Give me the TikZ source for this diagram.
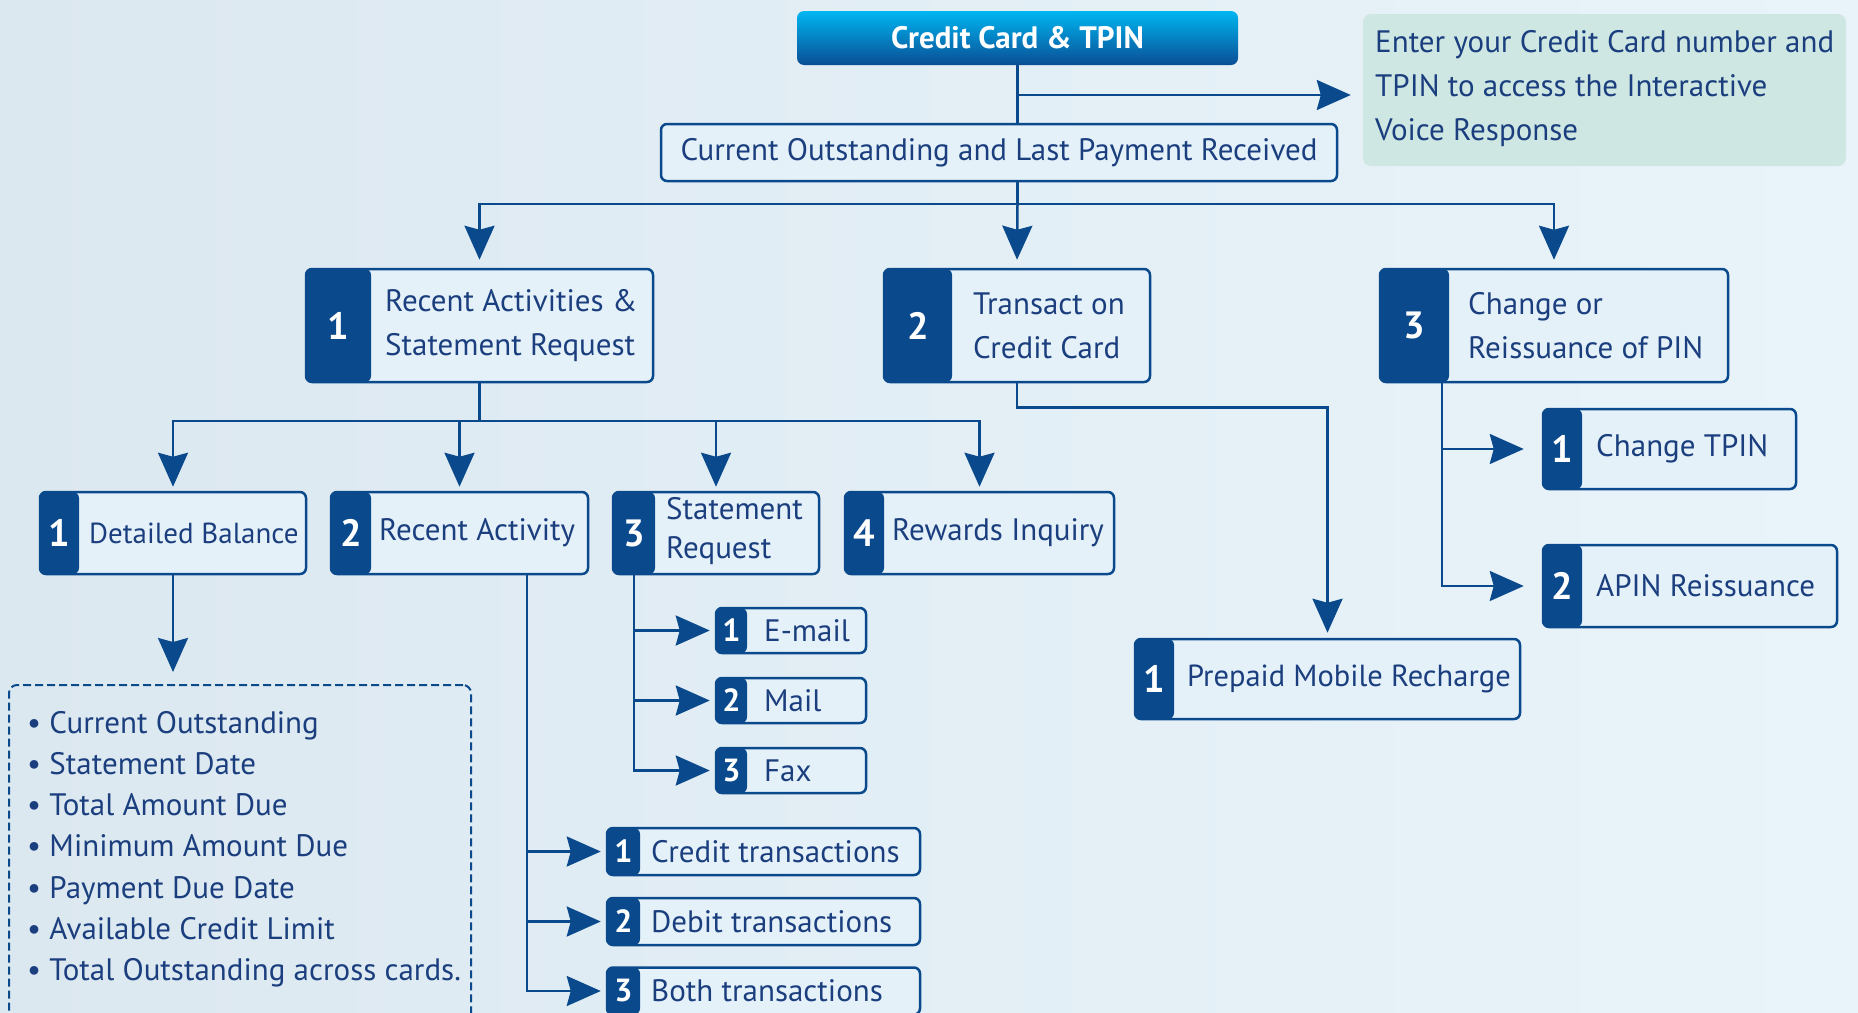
\documentclass[tikz,border=0pt]{standalone}
\usepackage{fontspec}
\setmainfont{PT Sans}
\usetikzlibrary{arrows.meta}

\definecolor{navy}{HTML}{0A4A8C}
\definecolor{ink}{HTML}{1B3F7E}
\definecolor{bgleft}{HTML}{DCE8F0}
\definecolor{bgright}{HTML}{E9F4FA}
\definecolor{boxfill}{HTML}{E5F1F9}
\definecolor{notefill}{HTML}{CFE7E3}
\definecolor{cardtop}{HTML}{00B6F1}
\definecolor{cardbot}{HTML}{0A4E95}

\tikzset{
  box/.style={draw=navy, line width=2.5pt, fill=boxfill, rounded corners=6pt, inner sep=0pt},
  tabbox/.style={box, path picture={\fill[navy] (path picture bounding box.south west) rectangle ([xshift=#1]path picture bounding box.north west);}},
  num/.style={text=white, inner sep=0pt, font=\bfseries\fontsize{38}{38}\selectfont},
  smallnum/.style={num, font=\bfseries\fontsize{32}{32}\selectfont},
  lbl/.style={text=ink, align=left, anchor=west, inner sep=0pt, font=\fontsize{31}{44}\selectfont},
  line/.style={draw=navy, line width=2.5pt},
  link/.style={line, -{Stealth[length=34pt, width=30pt, inset=4pt]}, shorten >=5pt},
}

\begin{document}
\begin{tikzpicture}[x=1pt, y=-1pt]

\useasboundingbox (0,0) rectangle (1858,1012);
\shade[left color=bgleft, right color=bgright] (0,0) rectangle (1858,1012);

% top of the tree
\node[top color=cardtop, bottom color=cardbot, rounded corners=7pt, minimum width=441pt, minimum height=54pt, text=white, font=\bfseries\fontsize{31}{31}\selectfont] (card) at (1017.5,38) {Credit Card \& TPIN};
\node[fill=notefill, rounded corners=8pt, minimum width=483pt, minimum height=152pt] (note) at (1604.5,90) {};
\node[lbl] (note-t) at (1375,89) {Enter your Credit Card number and\\TPIN to access the Interactive\\Voice Response};
\node[box, minimum width=676pt, minimum height=57pt, text=ink, font=\fontsize{31}{31}\selectfont] (cur) at (999,152.5) {Current Outstanding and Last Payment Received};

% main menu
\node[tabbox=65pt, minimum width=347pt, minimum height=113pt] (act) at (479.5,325.5) {};
\node[num] (act-n) at (338.5,325.5) {1};
\node[lbl] (act-t) at (385,325.5) {Recent Activities \&\\Statement Request};

\node[tabbox=68pt, minimum width=266pt, minimum height=113pt] (txn) at (1017,325.5) {};
\node[num] (txn-n) at (918,325.5) {2};
\node[lbl] (txn-t) at (973,325.5) {Transact on\\Credit Card};

\node[tabbox=69pt, minimum width=348pt, minimum height=113pt] (pin) at (1554,325.5) {};
\node[num] (pin-n) at (1414.5,325.5) {3};
\node[lbl] (pin-t) at (1468,325.5) {Change or\\Reissuance of PIN};

% recent activities menu
\node[tabbox=39pt, minimum width=266pt, minimum height=82pt] (bal) at (173,533) {};
\node[num] (bal-n) at (59.5,533) {1};
\node[lbl, font=\fontsize{29}{29}\selectfont] (bal-t) at (89,533) {Detailed Balance};

\node[tabbox=40pt, minimum width=257pt, minimum height=82pt] (rec) at (459.5,533) {};
\node[num] (rec-n) at (351,533) {2};
\node[lbl] (rec-t) at (379,533) {Recent Activity};

\node[tabbox=42pt, minimum width=206pt, minimum height=82pt] (stm) at (716,533) {};
\node[num] (stm-n) at (634,533) {3};
\node[lbl, font=\fontsize{31}{39}\selectfont] (stm-t) at (666,531) {Statement\\Request};

\node[tabbox=39pt, minimum width=269pt, minimum height=82pt] (rew) at (979.5,533) {};
\node[num] (rew-n) at (864.5,533) {4};
\node[lbl] (rew-t) at (892,533) {Rewards Inquiry};

% detailed balance items
\node[draw=navy, line width=2pt, dash pattern=on 8pt off 4pt, rounded corners=8pt, minimum width=462pt, minimum height=360pt, anchor=north west] (info) at (8,684) {};
\node[lbl, anchor=north west, font=\fontsize{31}{41.2}\selectfont] (info-t) at (27,711) {\textbullet\ Current Outstanding\\\textbullet\ Statement Date\\\textbullet\ Total Amount Due\\\textbullet\ Minimum Amount Due\\\textbullet\ Payment Due Date\\\textbullet\ Available Credit Limit\\\textbullet\ Total Outstanding across cards.};

% statement request
\node[tabbox=31pt, minimum width=150pt, minimum height=45pt] (eml) at (791,630.5) {};
\node[smallnum] (eml-n) at (731.5,630.5) {1};
\node[lbl] (eml-t) at (764,630.5) {E-mail};
\node[tabbox=31pt, minimum width=150pt, minimum height=45pt] (mal) at (791,700.5) {};
\node[smallnum] (mal-n) at (731.5,700.5) {2};
\node[lbl] (mal-t) at (764,700.5) {Mail};
\node[tabbox=31pt, minimum width=150pt, minimum height=45pt] (fax) at (791,770.5) {};
\node[smallnum] (fax-n) at (731.5,770.5) {3};
\node[lbl] (fax-t) at (764,770.5) {Fax};

% recent activity
\node[tabbox=33pt, minimum width=313pt, minimum height=47pt] (crd) at (763.5,851.5) {};
\node[smallnum] (crd-n) at (623.5,851.5) {1};
\node[lbl] (crd-t) at (651,851.5) {Credit transactions};
\node[tabbox=33pt, minimum width=313pt, minimum height=47pt] (deb) at (763.5,921.5) {};
\node[smallnum] (deb-n) at (623.5,921.5) {2};
\node[lbl] (deb-t) at (651,921.5) {Debit transactions};
\node[tabbox=33pt, minimum width=313pt, minimum height=47pt] (bth) at (763.5,991) {};
\node[smallnum] (bth-n) at (623.5,991) {3};
\node[lbl] (bth-t) at (651,991) {Both transactions};

% transact and pin
\node[tabbox=39pt, minimum width=385pt, minimum height=80pt] (pre) at (1327.5,679) {};
\node[num] (pre-n) at (1154.5,679) {1};
\node[lbl, font=\fontsize{30.5}{30.5}\selectfont] (pre-t) at (1187,679) {Prepaid Mobile Recharge};

\node[tabbox=39pt, minimum width=253pt, minimum height=80pt] (ctp) at (1669.5,449) {};
\node[num] (ctp-n) at (1562.5,449) {1};
\node[lbl] (ctp-t) at (1596,449) {Change TPIN};
\node[tabbox=39pt, minimum width=294pt, minimum height=82pt] (apn) at (1690,586) {};
\node[num] (apn-n) at (1562.5,586) {2};
\node[lbl] (apn-t) at (1596,586) {APIN Reissuance};

% connectors
\coordinate (split) at (1017.5,95);
\coordinate (bar1) at (0,204);
\coordinate (bar2) at (0,421);
\draw[line] (card.south) -- (card.south |- cur.north);
\draw[link, shorten >=12pt] (split) -- (split -| note.west);
\draw[line] (cur.south -| card.south) -- (card.south |- bar1);
\draw[link, shorten >=8pt] (card.south |- bar1) -| (act.north);
\draw[link, shorten >=8pt] (card.south |- bar1) -- (txn.north);
\draw[link, shorten >=8pt] (card.south |- bar1) -| (pin.north);

\draw[line] (act.south) -- (act.south |- bar2);
\draw[link, shorten >=4pt] (act.south |- bar2) -| (bal.north);
\draw[link, shorten >=4pt] (act.south |- bar2) -| (rec.north);
\draw[link, shorten >=4pt] (act.south |- bar2) -| (stm.north);
\draw[link, shorten >=4pt] (act.south |- bar2) -| (rew.north);

\draw[link, shorten >=12pt] (bal.south) -- (info.north -| bal.south);
\draw[link] (stm-n |- stm.south) |- (eml.west);
\draw[link] (stm-n |- stm.south) |- (mal.west);
\draw[link] (stm-n |- stm.south) |- (fax.west);
\draw[link] ([xshift=67.5pt]rec.south) |- (crd.west);
\draw[link] ([xshift=67.5pt]rec.south) |- (deb.west);
\draw[link] ([xshift=67.5pt]rec.south) |- (bth.west);

\draw[link] (txn.south) -- ++(0,24) -| (pre.north);
\draw[link, shorten >=18pt] ([xshift=63pt]pin.south west) |- (ctp.west);
\draw[link, shorten >=18pt] ([xshift=63pt]pin.south west) |- (apn.west);

\end{tikzpicture}
\end{document}
